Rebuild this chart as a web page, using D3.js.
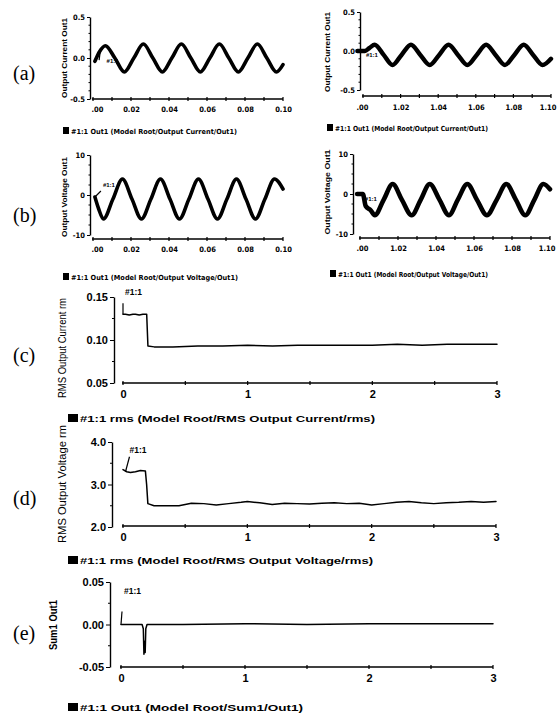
<!DOCTYPE html>
<html>
<head>
<meta charset="utf-8">
<script src="https://cdn.jsdelivr.net/npm/d3@7"></script>
<style>
  body { margin: 0; background: #fff; }
  svg { display: block; }
</style>
</head>
<body>
<div id="chart"></div>
<script>
// (a) output current, start of run (s, A)
const curStartT = [0.001, 0.0035, 0.0065, 0.0115, 0.0165, 0.0215, 0.0265, 0.0315, 0.0365, 0.0415, 0.0465, 0.0515, 0.0565, 0.0615, 0.0665, 0.0715, 0.0765, 0.0815, 0.0865, 0.0915, 0.0965, 0.1];
const curStartV = [-0.04, 0.08, 0.15, 0.0, -0.17, 0.0, 0.17, 0.0, -0.17, 0.0, 0.17, 0.0, -0.17, 0.0, 0.17, 0.0, -0.17, 0.0, 0.17, 0.0, -0.17, -0.08];
// (a) output current after the load step
const curLaterT = [0.997, 1.001, 1.0035, 1.0062, 1.011, 1.0157, 1.0205, 1.0255, 1.0305, 1.0355, 1.0405, 1.0455, 1.0505, 1.0555, 1.0605, 1.0655, 1.0705, 1.0755, 1.0805, 1.0855, 1.0905, 1.0955, 1.1];
const curLaterV = [0, 0, 0.04, 0.08, -0.05, -0.18, -0.05, 0.08, -0.05, -0.18, -0.05, 0.08, -0.05, -0.18, -0.05, 0.08, -0.05, -0.18, -0.05, 0.08, -0.05, -0.18, -0.1];
// (b) output voltage (V)
const voltStartT = [0.001, 0.003, 0.0055, 0.0105, 0.0155, 0.0205, 0.0255, 0.0305, 0.0355, 0.0405, 0.0455, 0.0505, 0.0555, 0.0605, 0.0655, 0.0705, 0.0755, 0.0805, 0.0855, 0.0905, 0.0955, 0.1];
const voltStartV = [-0.5, -3.5, -6, -1, 4, -1, -6, -1, 4, -1, -6, -1, 4, -1, -6, -1, 4, -1, -6, -1, 4, 1.5];
const voltLaterT = [0.9985, 1.0015, 1.003, 1.0055, 1.0078, 1.0125, 1.0172, 1.022, 1.0272, 1.032, 1.0367, 1.0418, 1.0468, 1.0515, 1.0565, 1.0615, 1.0668, 1.072, 1.077, 1.082, 1.087, 1.0918, 1.0965, 1.1];
const voltLaterV = [0, 0, -3, -4, -5.3, -1.4, 2.5, -1.4, -5.3, -1.4, 2.5, -1.4, -5.3, -1.4, 2.5, -1.4, -5.3, -1.4, 2.5, -1.4, -5.3, -1.4, 2.5, 1.2];
// (c) RMS output current
const rmsCurT = [0, 0.02, 0.05, 0.08, 0.1, 0.13, 0.16, 0.19, 0.2, 0.25, 0.4, 0.6, 0.8, 1.0, 1.2, 1.4, 1.6, 1.8, 2.0, 2.2, 2.4, 2.6, 2.8, 3.0];
const rmsCurV = [0.13, 0.13, 0.129, 0.13, 0.13, 0.129, 0.13, 0.13, 0.093, 0.092, 0.092, 0.093, 0.093, 0.094, 0.093, 0.094, 0.094, 0.094, 0.094, 0.095, 0.094, 0.095, 0.095, 0.095];
// (d) RMS output voltage
const rmsVoltT = [0, 0.03, 0.06, 0.1, 0.14, 0.18, 0.19, 0.2, 0.25, 0.35, 0.45, 0.5, 0.55, 0.65, 0.75, 0.85, 0.95, 1.0, 1.1, 1.2, 1.3, 1.4, 1.5, 1.6, 1.7, 1.8, 1.9, 2.0, 2.1, 2.2, 2.3, 2.4, 2.5, 2.6, 2.7, 2.8, 2.9, 3.0];
const rmsVoltV = [3.35, 3.3, 3.28, 3.3, 3.33, 3.32, 3.0, 2.55, 2.5, 2.5, 2.5, 2.53, 2.56, 2.55, 2.52, 2.55, 2.58, 2.6, 2.57, 2.53, 2.56, 2.55, 2.54, 2.56, 2.57, 2.55, 2.56, 2.52, 2.55, 2.58, 2.6, 2.57, 2.55, 2.57, 2.58, 2.6, 2.58, 2.6];
// (e) Sum1 output
const sumT = [0, 0.17, 0.18, 0.185, 0.19, 0.195, 0.2, 0.21, 0.5, 1, 1.5, 2, 2.5, 3];
const sumV = [0, 0, -0.005, -0.035, -0.02, -0.033, -0.005, 0, 0, 0.001, 0, 0.001, 0.001, 0.001];

// tick labels
const msTicks = [0, 0.02, 0.04, 0.06, 0.08, 0.1];
const msLabels = ['.00', '0.02', '0.04', '0.06', '0.08', '0.10'];
const msTicksLater = [1.0, 1.02, 1.04, 1.06, 1.08, 1.1];
const msLabelsLater = ['.00', '1.02', '1.04', '1.06', '1.08', '1.10'];
const secTicks = [0, 1, 2, 3];
const secLabels = ['0', '1', '2', '3'];

const narrow = 'bold 7.5px "Liberation Sans Narrow","DejaVu Sans Condensed","Liberation Sans",sans-serif';
const legNarrow = 'bold 7px "Liberation Sans Narrow","DejaVu Sans Condensed","Liberation Sans",sans-serif';
const wide = 'bold 11px "Liberation Sans",Arial,sans-serif';
const legendFont = 'bold 9px "Liberation Sans",Arial,sans-serif';

const svg = d3.select('#chart').append('svg').attr('width', 558).attr('height', 714);

function panel(p) {
    const x = d3.scaleLinear().domain(p.xDom).range(p.xPx);
    const y = d3.scaleLinear().domain(p.yDom).range(p.yPx);
    const g = svg.append('g');

    // y axis
    const ya = g.append('g').attr('transform', 'translate(' + p.axisX + ',0)')
        .call(d3.axisLeft(y).tickValues(p.yTicks).tickFormat((d, i) => p.yLabels[i])
            .tickSize(p.tick).tickSizeOuter(0).tickPadding(2));
    ya.select('.domain').attr('stroke-width', 1.4);
    ya.selectAll('.tick text').style('font', p.font);
    ya.selectAll('.minor').data(p.yMinor).join('line')
        .attr('x1', -p.tick / 2).attr('x2', 0).attr('y1', y).attr('y2', y).attr('stroke', '#000');

    // x axis: bare line with ticks crossing it, starting at the first tick
    const xa = g.append('g').attr('transform', 'translate(0,' + p.axisY + ')')
        .call(d3.axisBottom(x).tickValues(p.xTicks).tickFormat((d, i) => p.xLabels[i])
            .tickSize(0).tickPadding(p.xPad));
    xa.select('.domain').remove();
    const labels = xa.selectAll('.tick text').style('font', p.font);
    labels.filter((d, i) => i === 0).attr('dx', p.firstDx || 0);
    if (p.lastDx !== undefined) {
        labels.filter((d, i) => i === p.xTicks.length - 1).attr('text-anchor', 'end').attr('dx', p.lastDx);
    }
    xa.append('line').attr('x1', p.xPx[0] - 1).attr('x2', p.xPx[1]).attr('stroke', '#000').attr('stroke-width', 1.4);
    xa.selectAll('.xt').data(p.xTicks.concat(p.xMinor)).join('line')
        .attr('x1', x).attr('x2', x).attr('y1', -2).attr('y2', 2).attr('stroke', '#000').attr('stroke-width', 1.2);

    // signal
    const pts = p.t.map((t, i) => [t, p.v[i]]);
    g.append('path')
        .attr('d', d3.line().x(d => x(d[0])).y(d => y(d[1])).curve(p.curve)(pts))
        .attr('fill', 'none').attr('stroke', '#000').attr('stroke-width', p.lw)
        .attr('stroke-linejoin', 'round').attr('stroke-linecap', 'round');

    // "#1:1" marker with its leader
    const ax = x(p.tag.t), ay = y(p.tag.v);
    if (p.tag.lx !== undefined) {
        g.append('line').attr('x1', ax).attr('y1', ay).attr('x2', ax + p.tag.lx).attr('y2', ay + p.tag.ly)
            .attr('stroke', '#000').attr('stroke-width', 1.2);
    }
    g.append('text').attr('x', ax + p.tag.dx).attr('y', ay + p.tag.dy)
        .style('font', p.tagFont).text('#1:1');

    // y title
    g.append('text')
        .attr('transform', 'translate(' + p.title.x + ',' + p.title.y + ') rotate(-90)')
        .attr('text-anchor', 'middle').attr('textLength', p.title.len).attr('lengthAdjust', 'spacingAndGlyphs')
        .style('font', p.title.font).text(p.title.text);

    // legend
    g.append('rect').attr('x', p.leg.x).attr('y', p.leg.y - p.leg.h).attr('width', p.leg.w).attr('height', p.leg.h).attr('fill', '#000');
    g.append('text').attr('x', p.leg.x + p.leg.w + 2).attr('y', p.leg.y)
        .attr('textLength', p.leg.len).attr('lengthAdjust', 'spacingAndGlyphs')
        .style('font', p.leg.font).text(p.leg.text);
}

const wave = d3.curveMonotoneX;
const steps = d3.curveLinear;
const titleSmall = 'bold 7px "Liberation Sans",sans-serif';
const titleBig = '10px "Liberation Sans",Arial,sans-serif';
const tagSmall = 'bold 6px "Liberation Sans",sans-serif';
const tagBig = 'bold 8.5px "Liberation Sans",sans-serif';

panel({
    xDom: [0, 0.1], xPx: [93, 283], yDom: [-0.5, 0.5], yPx: [99, 17], axisX: 90, axisY: 99,
    yTicks: [0.5, 0, -0.5], yLabels: ['0.5', '0.0', '-0.5'], yMinor: [0.4, 0.3, 0.2, 0.1, -0.1, -0.2, -0.3, -0.4],
    xTicks: msTicks, xLabels: msLabels, xMinor: [0.01, 0.03, 0.05, 0.07, 0.09], xPad: 8, firstDx: 4,
    tick: 3, font: narrow, t: curStartT, v: curStartV, curve: wave, lw: 3.6,
    tag: { t: 0.004, v: 0.12, lx: -1.5, ly: 12, dx: 6, dy: 15 }, tagFont: tagSmall,
    title: { x: 67, y: 58, len: 80, font: titleSmall, text: 'Output Current Out1' },
    leg: { x: 63, y: 134, w: 6, h: 7, len: 166, font: legNarrow, text: '#1:1 Out1 (Model Root/Output Current/Out1)' }
});
panel({
    xDom: [1.0, 1.1], xPx: [363, 551], yDom: [-0.5, 0.5], yPx: [90, 12], axisX: 360, axisY: 96,
    yTicks: [0.5, 0, -0.5], yLabels: ['0.5', '0.0', '-0.5'], yMinor: [0.4, 0.3, 0.2, 0.1, -0.1, -0.2, -0.3, -0.4],
    xTicks: msTicksLater, xLabels: msLabelsLater, xMinor: [1.01, 1.03, 1.05, 1.07, 1.09], xPad: 9, firstDx: -1, lastDx: 5,
    tick: 3, font: narrow, t: curLaterT, v: curLaterV, curve: wave, lw: 4.4,
    tag: { t: 1.001, v: 0, dx: 1, dy: 6 }, tagFont: tagSmall,
    title: { x: 330, y: 52, len: 80, font: titleSmall, text: 'Output Current Out1' },
    leg: { x: 327, y: 131, w: 6, h: 7, len: 153, font: legNarrow, text: '#1:1 Out1 (Model Root/Output Current/Out1)' }
});
panel({
    xDom: [0, 0.1], xPx: [93, 283], yDom: [-10, 10], yPx: [235, 155], axisX: 90, axisY: 239,
    yTicks: [10, 0, -10], yLabels: ['10', '0', '-10'], yMinor: [7.5, 5, 2.5, -2.5, -5, -7.5],
    xTicks: msTicks, xLabels: msLabels, xMinor: [0.01, 0.03, 0.05, 0.07, 0.09], xPad: 8, firstDx: 4,
    tick: 3, font: narrow, t: voltStartT, v: voltStartV, curve: wave, lw: 3.6,
    tag: { t: 0.001, v: -0.5, lx: 6, ly: -6, dx: 8, dy: -10 }, tagFont: tagSmall,
    title: { x: 67, y: 197, len: 80, font: titleSmall, text: 'Output Voltage Out1' },
    leg: { x: 63, y: 280, w: 6, h: 7, len: 167, font: legNarrow, text: '#1:1 Out1 (Model Root/Output Voltage/Out1)' }
});
panel({
    xDom: [1.0, 1.1], xPx: [360, 550], yDom: [-10, 10], yPx: [234, 154], axisX: 353, axisY: 238,
    yTicks: [10, 0, -10], yLabels: ['10', '0', '-10'], yMinor: [7.5, 5, 2.5, -2.5, -5, -7.5],
    xTicks: msTicksLater, xLabels: msLabelsLater, xMinor: [1.01, 1.03, 1.05, 1.07, 1.09], xPad: 8, firstDx: 2, lastDx: 5,
    tick: 3, font: narrow, t: voltLaterT, v: voltLaterV, curve: wave, lw: 4.6,
    tag: { t: 1.0015, v: 0, dx: 2, dy: 7 }, tagFont: tagSmall,
    title: { x: 330, y: 192, len: 85, font: titleSmall, text: 'Output Voltage Out1' },
    leg: { x: 330, y: 277, w: 6, h: 7, len: 150, font: legNarrow, text: '#1:1 Out1 (Model Root/Output Voltage/Out1)' }
});
panel({
    xDom: [0, 3], xPx: [123, 497], yDom: [0.05, 0.15], yPx: [383, 297], axisX: 114, axisY: 383,
    yTicks: [0.15, 0.1, 0.05], yLabels: ['0.15', '0.10', '0.05'], yMinor: [0.125, 0.075],
    xTicks: secTicks, xLabels: secLabels, xMinor: [0.5, 1.5, 2.5], xPad: 7,
    tick: 4, font: wide, t: rmsCurT, v: rmsCurV, curve: steps, lw: 1.5,
    tag: { t: 0, v: 0.13, lx: 0, ly: -11, dx: 2, dy: -19 }, tagFont: tagBig,
    title: { x: 66, y: 348, len: 100, font: titleBig, text: 'RMS Output Current rm' },
    leg: { x: 68, y: 422, w: 10, h: 8, len: 295, font: legendFont, text: '#1:1 rms (Model Root/RMS Output Current/rms)' }
});
panel({
    xDom: [0, 3], xPx: [123, 496], yDom: [2, 4], yPx: [527, 442], axisX: 112, axisY: 526,
    yTicks: [4, 3, 2], yLabels: ['4.0', '3.0', '2.0'], yMinor: [3.5, 2.5],
    xTicks: secTicks, xLabels: secLabels, xMinor: [0.5, 1.5, 2.5], xPad: 7,
    tick: 4, font: wide, t: rmsVoltT, v: rmsVoltV, curve: steps, lw: 1.5,
    tag: { t: 0.02, v: 3.3, lx: 4, ly: -15, dx: 4, dy: -19 }, tagFont: tagBig,
    title: { x: 66, y: 484, len: 118, font: titleBig, text: 'RMS Output Voltage rm' },
    leg: { x: 68, y: 564, w: 10, h: 8, len: 293, font: legendFont, text: '#1:1 rms (Model Root/RMS Output Voltage/rms)' }
});
panel({
    xDom: [0, 3], xPx: [121, 493], yDom: [-0.05, 0.05], yPx: [667, 582], axisX: 110, axisY: 667,
    yTicks: [0.05, 0, -0.05], yLabels: ['0.05', '0.00', '-0.05'], yMinor: [0.025, -0.025],
    xTicks: secTicks, xLabels: secLabels, xMinor: [0.5, 1.5, 2.5], xPad: 7,
    tick: 4, font: wide, t: sumT, v: sumV, curve: steps, lw: 1.5,
    tag: { t: 0, v: 0, lx: 1, ly: -13, dx: 3, dy: -31 }, tagFont: tagBig,
    title: { x: 57, y: 625, len: 50, font: 'bold 10.5px "Liberation Sans",Arial,sans-serif', text: 'Sum1 Out1' },
    leg: { x: 68, y: 711, w: 10, h: 8, len: 223, font: legendFont, text: '#1:1 Out1 (Model Root/Sum1/Out1)' }
});

// panel letters
const panelLetters = ['(a)', '(b)', '(c)', '(d)', '(e)'];
const letterY = [80, 222, 362, 505, 640];
svg.selectAll('.letter').data(panelLetters).join('text')
    .attr('x', 13).attr('y', (d, i) => letterY[i])
    .style('font', '20px "Liberation Serif","Times New Roman",serif')
    .text(d => d);
</script>
</body>
</html>
